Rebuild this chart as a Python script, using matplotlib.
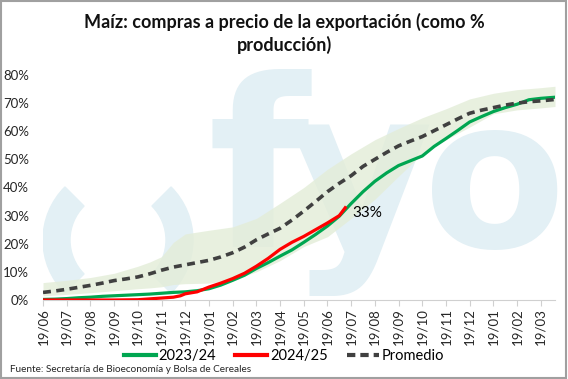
import matplotlib
matplotlib.use("Agg")
import matplotlib.pyplot as plt
import numpy as np
from matplotlib.patches import Wedge, Rectangle
from matplotlib.lines import Line2D

plt.rcParams["font.family"] = ["Lato", "DejaVu Sans"]

# ---- data (x = months since 19/06, y = % of production) ----
TICK_LABELS = ["19/06", "19/07", "19/08", "19/09", "19/10", "19/11", "19/12",
               "19/01", "19/02", "19/03", "19/04", "19/05", "19/06", "19/07",
               "19/08", "19/09", "19/10", "19/11", "19/12", "19/01", "19/02",
               "19/03"]

avg_x = [0, 0.5, 1, 1.5, 2, 2.5, 3, 3.5, 4, 4.5, 5, 5.5, 6, 6.5, 7, 7.5, 8,
         8.5, 9, 9.5, 10, 10.5, 11, 11.5, 12, 12.5, 13, 13.5, 14, 14.5, 15,
         15.5, 16, 16.5, 17, 17.5, 18, 18.5, 19, 19.5, 20, 20.5, 21, 21.6]
avg_y = [2.7, 3.2, 3.8, 4.5, 5.2, 6.0, 6.9, 7.5, 8.2, 9.3, 10.6, 11.7, 12.5,
         13.3, 14.1, 15.3, 16.8, 18.8, 21.4, 23.5, 25.5, 28.4, 31.6, 35.0,
         38.5, 41.5, 44.2, 47.5, 50.0, 52.5, 54.8, 56.5, 58.1, 60.2, 62.3,
         64.4, 66.4, 67.5, 68.4, 69.3, 70.0, 70.5, 70.8, 71.3]

g_x = avg_x
g_y = [0.2, 0.3, 0.5, 0.8, 1.0, 1.3, 1.5, 1.7, 1.9, 2.1, 2.4, 2.7, 2.9, 3.3,
       4.0, 5.3, 7.0, 8.8, 11.2, 13.3, 15.6, 17.8, 20.5, 23.3, 26.3, 29.8,
       34.3, 38.5, 42.2, 45.2, 47.8, 49.5, 51.2, 54.6, 57.4, 60.3, 63.3,
       65.2, 67.0, 68.4, 69.6, 71.2, 71.7, 72.1]

r_x = [0, 1, 2, 3, 4, 4.5, 5, 5.5, 5.8, 6, 6.5, 7, 7.5, 8, 8.5, 9, 9.5, 10,
       10.5, 11, 11.5, 12, 12.5, 12.75]
r_y = [0.0, 0.0, 0.0, 0.0, 0.1, 0.4, 0.7, 1.0, 1.5, 2.2, 2.9, 4.6, 6.0, 7.6,
       9.5, 12.0, 14.8, 18.0, 20.5, 22.6, 25.0, 27.4, 30.0, 32.8]

band_x = [0, 1, 2, 3, 4, 4.5, 5, 5.5, 6, 7, 8, 9, 10, 11, 12, 13, 14, 15, 16,
          17, 18, 19, 20, 21, 21.6]
band_hi = [6.2, 7.0, 8.0, 9.5, 12.0, 13.5, 15.4, 20.5, 23.5, 24.8, 26.0, 29.0,
           34.4, 40.0, 46.5, 52.0, 57.0, 61.0, 64.8, 68.0, 71.5, 73.5, 74.8,
           75.5, 76.0]
band_lo = [1.5, 2.0, 2.6, 3.3, 4.0, 4.3, 4.7, 5.5, 5.8, 6.0, 7.2, 10.0, 14.0,
           19.0, 22.5, 29.0, 35.8, 44.0, 52.0, 57.0, 61.5, 66.2, 67.6, 68.3,
           68.8]

GREEN = "#00a651"
RED = "#ff0000"
DARK = "#404040"
BAND = "#e3edd8"
WATER = "#e3f0f5"

fig = plt.figure(figsize=(5.68, 3.79), dpi=100)
ax = fig.add_axes([43 / 568, 1 - 300 / 379, (555 - 43) / 568, 225 / 379])

# watermark logo (pixel coordinates, origin bottom-left)
for a0, a1 in [(135, 225), (-45, 45)]:
    ax.add_patch(Wedge((118, 379 - 240), 75, a0, a1, width=27, transform=None,
                       color=WATER, zorder=0.5))
for txt, xp, size in [("f", 258, 168), ("y", 360, 162), ("o", 495, 150)]:
    t = ax.text(xp / 568, 1 - 247 / 379, txt, transform=fig.transFigure,
                fontsize=size, fontweight="bold", family="DejaVu Sans",
                color=WATER, ha="center", va="baseline", zorder=0.5)
    t.set_clip_path(ax.patch)

ax.fill_between(band_x, np.array(band_lo) / 100, np.array(band_hi) / 100,
                color=BAND, alpha=0.8, lw=0, zorder=2)
ax.plot(avg_x, np.array(avg_y) / 100, color=DARK, lw=2.6, ls=(0, (2.2, 1.5)),
        zorder=4)
ax.plot(g_x, np.array(g_y) / 100, color=GREEN, lw=2.3, zorder=3)
ax.plot(r_x, np.array(r_y) / 100, color=RED, lw=2.3, zorder=5)
ax.text(r_x[-1] + 0.3, r_y[-1] / 100 - 0.018, f"{r_y[-1]:.0f}%", fontsize=11,
        color="black", va="center", ha="left", zorder=6)

ax.set_xlim(0, 21.6)
ax.set_ylim(0, 0.8)
ax.set_xticks(range(len(TICK_LABELS)))
ax.set_xticklabels(TICK_LABELS, rotation=90, fontsize=9.5, color="#262626")
ax.set_yticks(np.arange(0, 0.81, 0.1))
ax.set_yticklabels([f"{v}%" for v in range(0, 81, 10)], fontsize=9.5,
                   color="#262626")
ax.tick_params(axis="x", length=4, color="#d0d0d0", pad=2)
ax.tick_params(axis="y", length=0, pad=10)
for s in ["top", "right", "left"]:
    ax.spines[s].set_visible(False)
ax.spines["bottom"].set_color("#d0d0d0")
ax.patch.set_alpha(0)

fig.text(0.5, 1 - 22 / 379, "Maíz: compras a precio de la exportación (como %",
         ha="center", va="center", fontsize=13, fontweight="bold",
         color="#111111")
fig.text(0.5, 1 - 45 / 379, "producción)", ha="center", va="center",
         fontsize=13, fontweight="bold", color="#111111")

handles = [Line2D([], [], color=GREEN, lw=3),
           Line2D([], [], color=RED, lw=3),
           Line2D([], [], color=DARK, lw=3, ls=(0, (2, 1.2)))]
fig.legend(handles, ["2023/24", "2024/25", "Promedio"], loc="center",
           bbox_to_anchor=(0.5, 1 - 356 / 379), ncol=3, frameon=False,
           fontsize=10.5, handlelength=2.2, columnspacing=1.3,
           handletextpad=0.2)

fig.text(10 / 568, 1 - 370 / 379,
         "Fuente: Secretaría de Bioeconomía y Bolsa de Cereales",
         fontsize=7.2, color="#262626", va="center", ha="left")

fig.patches.append(Rectangle((0.001, 0.002), 0.996, 0.996,
                             transform=fig.transFigure, fill=False,
                             edgecolor="#a0a0a0", lw=1.5))

fig.savefig("out.png", dpi=100)
